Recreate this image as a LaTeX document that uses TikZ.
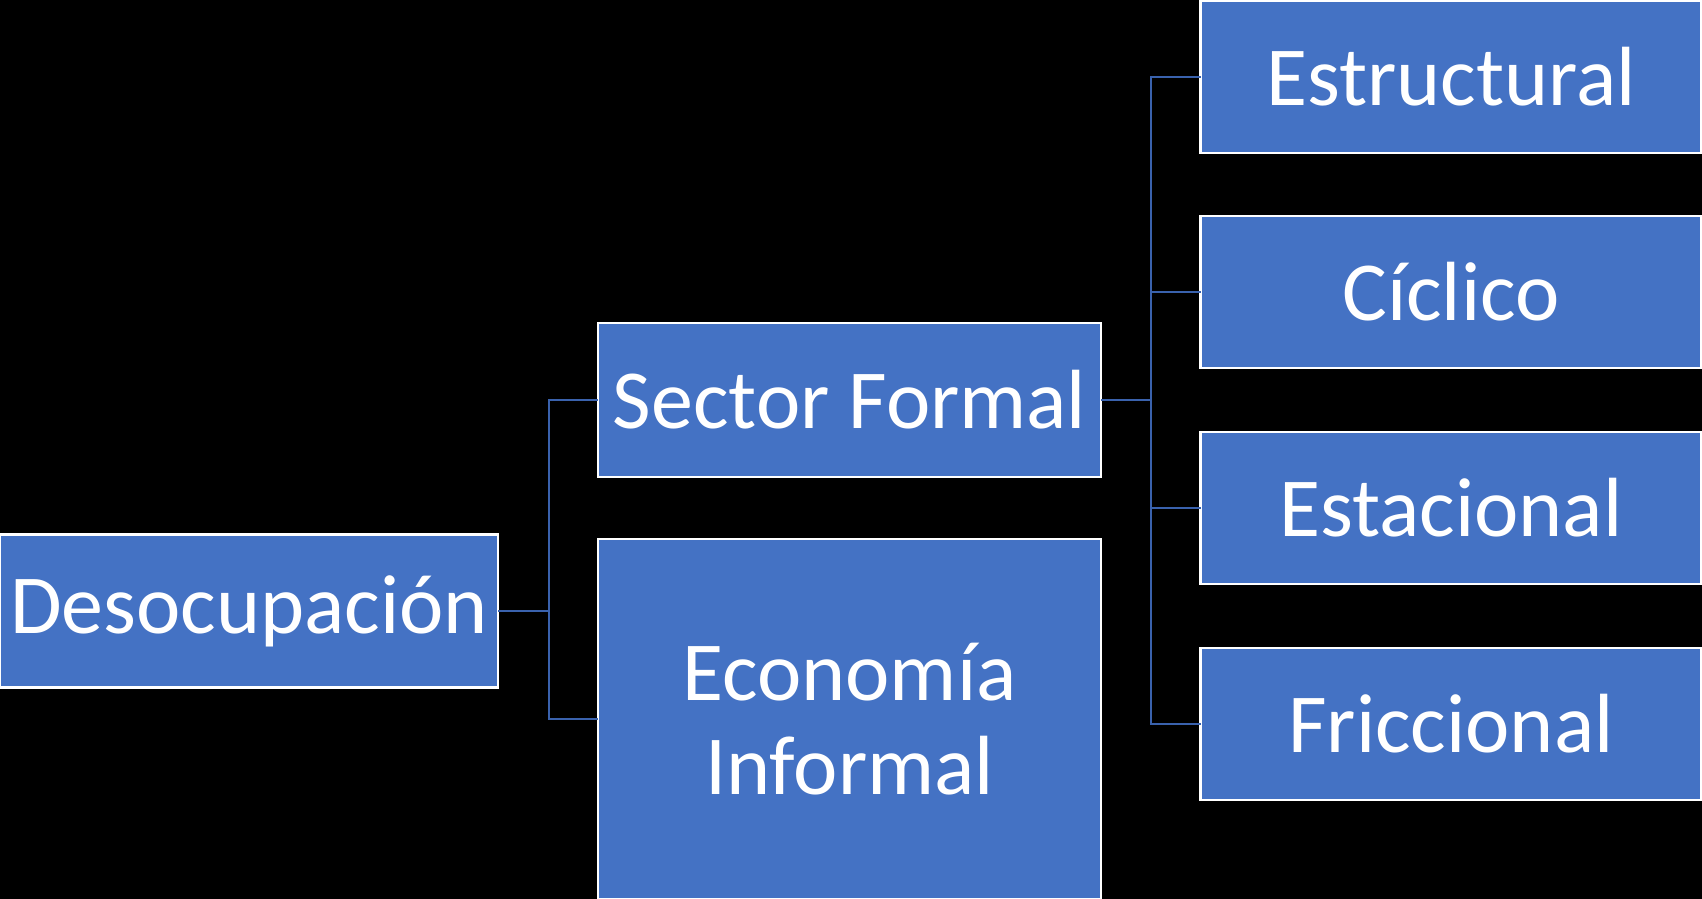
\documentclass[tikz,border=0pt]{standalone}
\usepackage{fontspec}
\setmainfont{Carlito}
\definecolor{boxblue}{HTML}{4472C4}
\definecolor{linkblue}{HTML}{3A62AD}
\begin{document}
\begin{tikzpicture}[x=0.5pt,y=-0.5pt,
  box/.style={draw=white,line width=1.4pt,fill=boxblue,text=white,inner sep=0pt,outer sep=0pt,
    align=center,font=\fontsize{42}{47}\selectfont},
  link/.style={draw=linkblue,line width=1pt}]
\fill[black] (0,0) rectangle (1702,899);
\useasboundingbox (0,0) rectangle (1702,899);
\node[box,minimum width=249pt,minimum height=76.5pt] (desoc) at (249,611) {Desocupación};
\node[box,minimum width=251.5pt,minimum height=77pt] (sector) at (849.5,400) {Sector Formal};
\node[box,minimum width=251.5pt,minimum height=180pt] (econ) at (849.5,719) {Economía\\Informal};
\node[box,minimum width=250.5pt,minimum height=76pt] (estr) at (1451,77) {Estructural};
\node[box,minimum width=250.5pt,minimum height=76pt] (cicl) at (1451,292) {Cíclico};
\node[box,minimum width=250.5pt,minimum height=76pt] (estac) at (1451,508) {Estacional};
\node[box,minimum width=250.5pt,minimum height=76pt] (fric) at (1451,724) {Friccional};
\coordinate (j1) at (549,611);
\coordinate (j2) at (1151,400);
\draw[link] (desoc.east) -- (j1);
\draw[link] (j1) |- (sector.west);
\draw[link] (j1) |- (econ.west);
\draw[link] (sector.east) -- (j2);
\draw[link] (j2) |- (estr.west);
\draw[link] (j2) |- (cicl.west);
\draw[link] (j2) |- (estac.west);
\draw[link] (j2) |- (fric.west);
\end{tikzpicture}
\end{document}
